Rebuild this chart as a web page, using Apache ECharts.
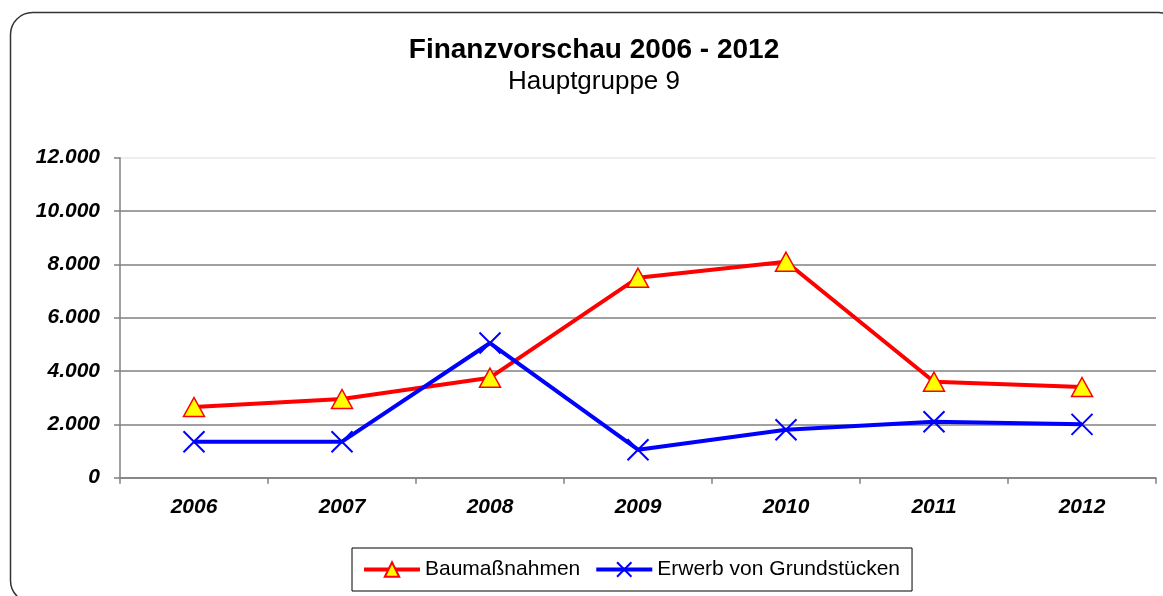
<!DOCTYPE html>
<html>
<head>
<meta charset="utf-8">
<script src="https://cdn.jsdelivr.net/npm/echarts@6/dist/echarts.min.js"></script>
<style>html,body{margin:0;padding:0;background:#fff;}#chart{width:1163px;height:596px;}</style>
</head>
<body>
<div id="chart"></div>
<script>
const titleText = 'Finanzvorschau 2006 - 2012';
const subtitleText = 'Hauptgruppe 9';
const years = ['2006', '2007', '2008', '2009', '2010', '2011', '2012'];
const seriesNames = ['Baumaßnahmen', 'Erwerb von Grundstücken'];
const baumassnahmen = [2650, 2950, 3750, 7500, 8100, 3600, 3400];
const erwerb = [1350, 1350, 5050, 1050, 1800, 2100, 2000];
const yTicks = { min: 0, max: 12000, interval: 2000 };

const chart = echarts.init(document.getElementById('chart'));
const fontFam = 'Liberation Sans, Arial, sans-serif';
chart.setOption({
  animation: false,
  backgroundColor: '#fff',
  graphic: [
    { type: 'rect', shape: { x: 10.5, y: 12.5, width: 1170, height: 590, r: 22 },
      style: { fill: 'none', stroke: '#333', lineWidth: 1.5 }, z: -1 },
    { type: 'text', x: 594, y: 36, style: { text: titleText, textAlign: 'center',
      font: 'bold 28px ' + fontFam, fill: '#000' } },
    { type: 'text', x: 594, y: 69, style: { text: subtitleText, textAlign: 'center',
      font: '26px ' + fontFam, fill: '#000' } }
  ],
  grid: { left: 120, right: 7, top: 157.7, bottom: 118.3, containLabel: false },
  legend: {
    data: seriesNames,
    left: 352, top: 548,
    padding: [11, 12, 11, 10],
    itemGap: 14,
    itemWidth: 56, itemHeight: 18,
    borderColor: '#000', borderWidth: 1,
    lineStyle: { width: 4 },
    textStyle: { fontFamily: fontFam, fontSize: 21, color: '#000' }
  },
  xAxis: {
    type: 'category',
    data: years,
    boundaryGap: true,
    axisLine: { lineStyle: { color: '#808080', width: 1.5 } },
    axisTick: { show: true, length: 6, lineStyle: { color: '#808080', width: 1.5 } },
    axisLabel: { margin: 19, color: '#000', fontFamily: fontFam, fontSize: 21,
      fontWeight: 'bold', fontStyle: 'italic' },
    splitLine: { show: false }
  },
  yAxis: {
    type: 'value',
    min: yTicks.min, max: yTicks.max, interval: yTicks.interval,
    axisLine: { show: true, lineStyle: { color: '#808080', width: 1.5 } },
    axisTick: { show: true, length: 6, lineStyle: { color: '#808080', width: 1.5 } },
    axisLabel: { margin: 20, color: '#000', fontFamily: fontFam, fontSize: 21,
      fontWeight: 'bold', fontStyle: 'italic',
      formatter: v => v === 0 ? '0' : (v / 1000).toFixed(0) + '.000' },
    splitLine: { show: true, lineStyle: { color: ['#808080','#808080','#808080','#808080','#808080','#808080','#e8e8e8'], width: 1.5 } }
  },
  series: [
    {
      name: seriesNames[0], type: 'line', data: baumassnahmen,
      symbol: 'triangle', symbolSize: [21, 19],
      lineStyle: { color: '#ff0000', width: 4 },
      itemStyle: { color: '#ffff00', borderColor: '#ff0000', borderWidth: 1.5 },
      z: 3
    },
    {
      name: seriesNames[1], type: 'line', data: erwerb,
      symbol: 'path://M0,0L10,10M10,0L0,10', symbolSize: 21,
      lineStyle: { color: '#0000ff', width: 4 },
      itemStyle: { color: '#0000ff', borderColor: '#0000ff', borderWidth: 2 },
      z: 4
    }
  ]
});
</script>
</body>
</html>
